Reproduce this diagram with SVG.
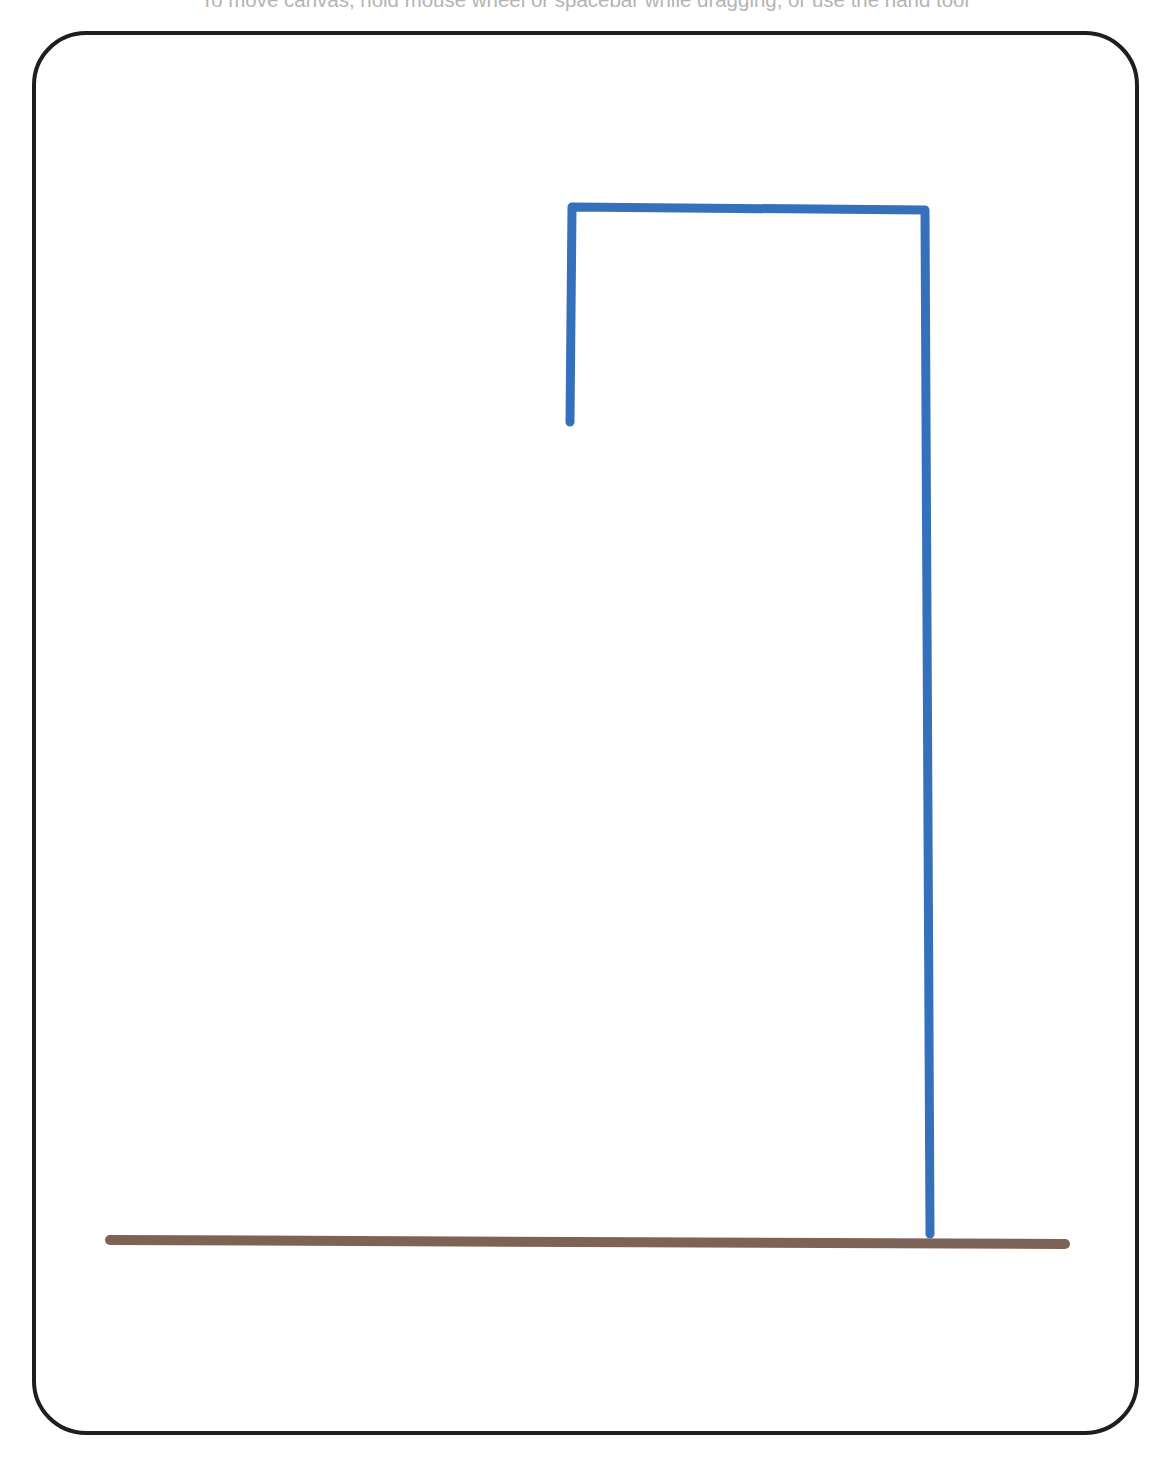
<svg xmlns="http://www.w3.org/2000/svg" width="1168" height="1464" viewBox="0 0 1168 1464">
  <style>
    .hint { font-family: "Liberation Sans", "DejaVu Sans", sans-serif; font-size: 20px; fill: #b4b4b4; }
    .frame { fill: #ffffff; stroke: #1e1e1e; stroke-width: 4; }
    .gallows { fill: none; stroke: #3570bd; stroke-width: 9; stroke-linecap: round; stroke-linejoin: round; }
    .ground { fill: none; stroke: #7d6356; stroke-width: 10; stroke-linecap: round; }
  </style>
  <rect width="1168" height="1464" fill="#ffffff"/>
  <text class="hint" x="585" y="7" text-anchor="middle" textLength="768" lengthAdjust="spacingAndGlyphs">To move canvas, hold mouse wheel or spacebar while dragging, or use the hand tool</text>
  <g id="frame">
    <rect class="frame" x="34" y="33" width="1103" height="1400" rx="52" ry="52"/>
  </g>
  <g id="ground">
    <path class="ground" d="M110,1240 L1065,1244"/>
  </g>
  <g id="gallows">
    <path class="gallows" d="M570,422 L572,207 L925,210 L930,1234"/>
  </g>
</svg>
